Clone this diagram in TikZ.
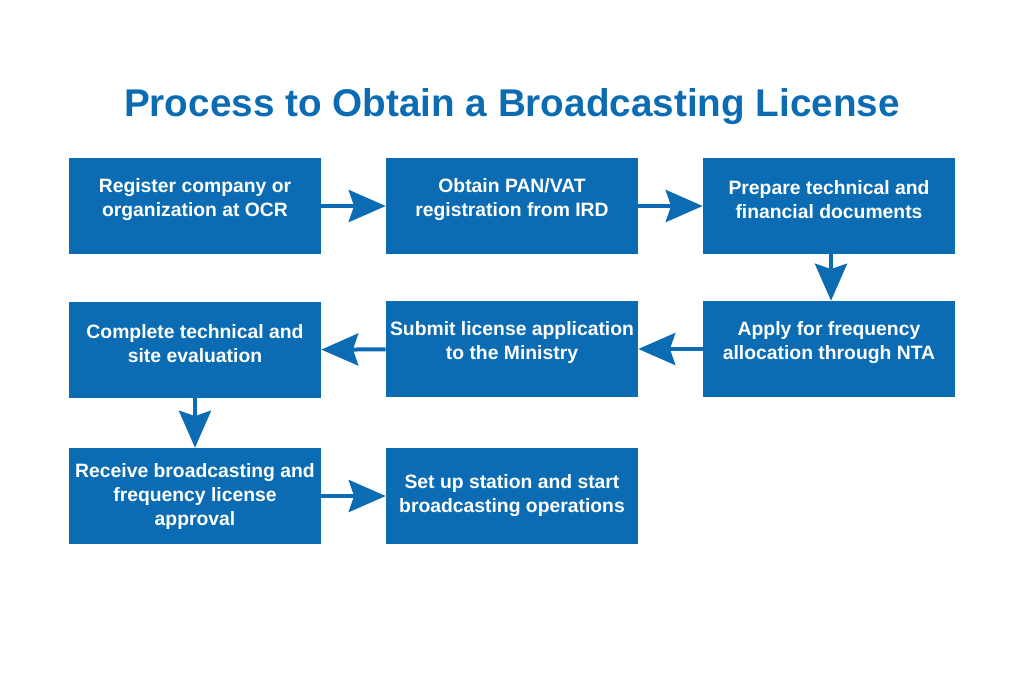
\documentclass[tikz,border=0pt]{standalone}
\usepackage{fontspec}
\usetikzlibrary{arrows.meta}
\setmainfont{Liberation Sans}
\definecolor{boxblue}{HTML}{0B6CB4}
\tikzset{
  stepbox/.style={rectangle, fill=boxblue, inner sep=0pt, minimum width=189pt, minimum height=72pt},
  steptext/.style={align=center, text=white, inner sep=0pt, font=\bfseries\fontsize{14.5}{18}\selectfont},
  uptext/.style={steptext, yshift=4.8pt},
  flow/.style={draw=boxblue, line width=3pt, -{Stealth[length=27.75pt,width=24pt,inset=4pt]}}
}
\begin{document}
\begin{tikzpicture}[x=0.75pt,y=-0.75pt]
\useasboundingbox (0,0) rectangle (1024,683);
% Title
\node[text=boxblue, font=\bfseries\fontsize{29}{34}\selectfont] (title) at (512,107) {Process to Obtain a Broadcasting License};

% First row
\node[stepbox, label={[uptext]center:Register company or\\organization at OCR}] (register) at (195,206) {};
\node[stepbox, label={[uptext]center:Obtain PAN/VAT\\registration from IRD}] (pan) at (512,206) {};
\node[stepbox, label={[uptext]center:Prepare technical and\\financial documents}] (docs) at (829,206) {};

% Second row
\node[stepbox, label={[uptext]center:Apply for frequency\\allocation through NTA}] (freq) at (829,349) {};
\node[stepbox, label={[uptext]center:Submit license application\\to the Ministry}] (submit) at (512,349) {};
\node[stepbox, label={[uptext]center:Complete technical and\\site evaluation}] (site) at (195,350) {};

% Third row
\node[stepbox, label={[steptext]center:Receive broadcasting and\\frequency license\\approval}] (approval) at (195,496) {};
\node[stepbox, label={[steptext]center:Set up station and start\\broadcasting operations}] (station) at (512,496) {};

% Arrows
\draw[flow] (register) -- (pan);
\draw[flow] (pan) -- (docs);
\draw[flow] (docs.south -| 831,0) -- (freq.north -| 831,0);
\draw[flow] (freq) -- (submit);
\draw[flow] (submit) -- (site);
\draw[flow] (site) -- (approval);
\draw[flow] (approval) -- (station);
\end{tikzpicture}
\end{document}
